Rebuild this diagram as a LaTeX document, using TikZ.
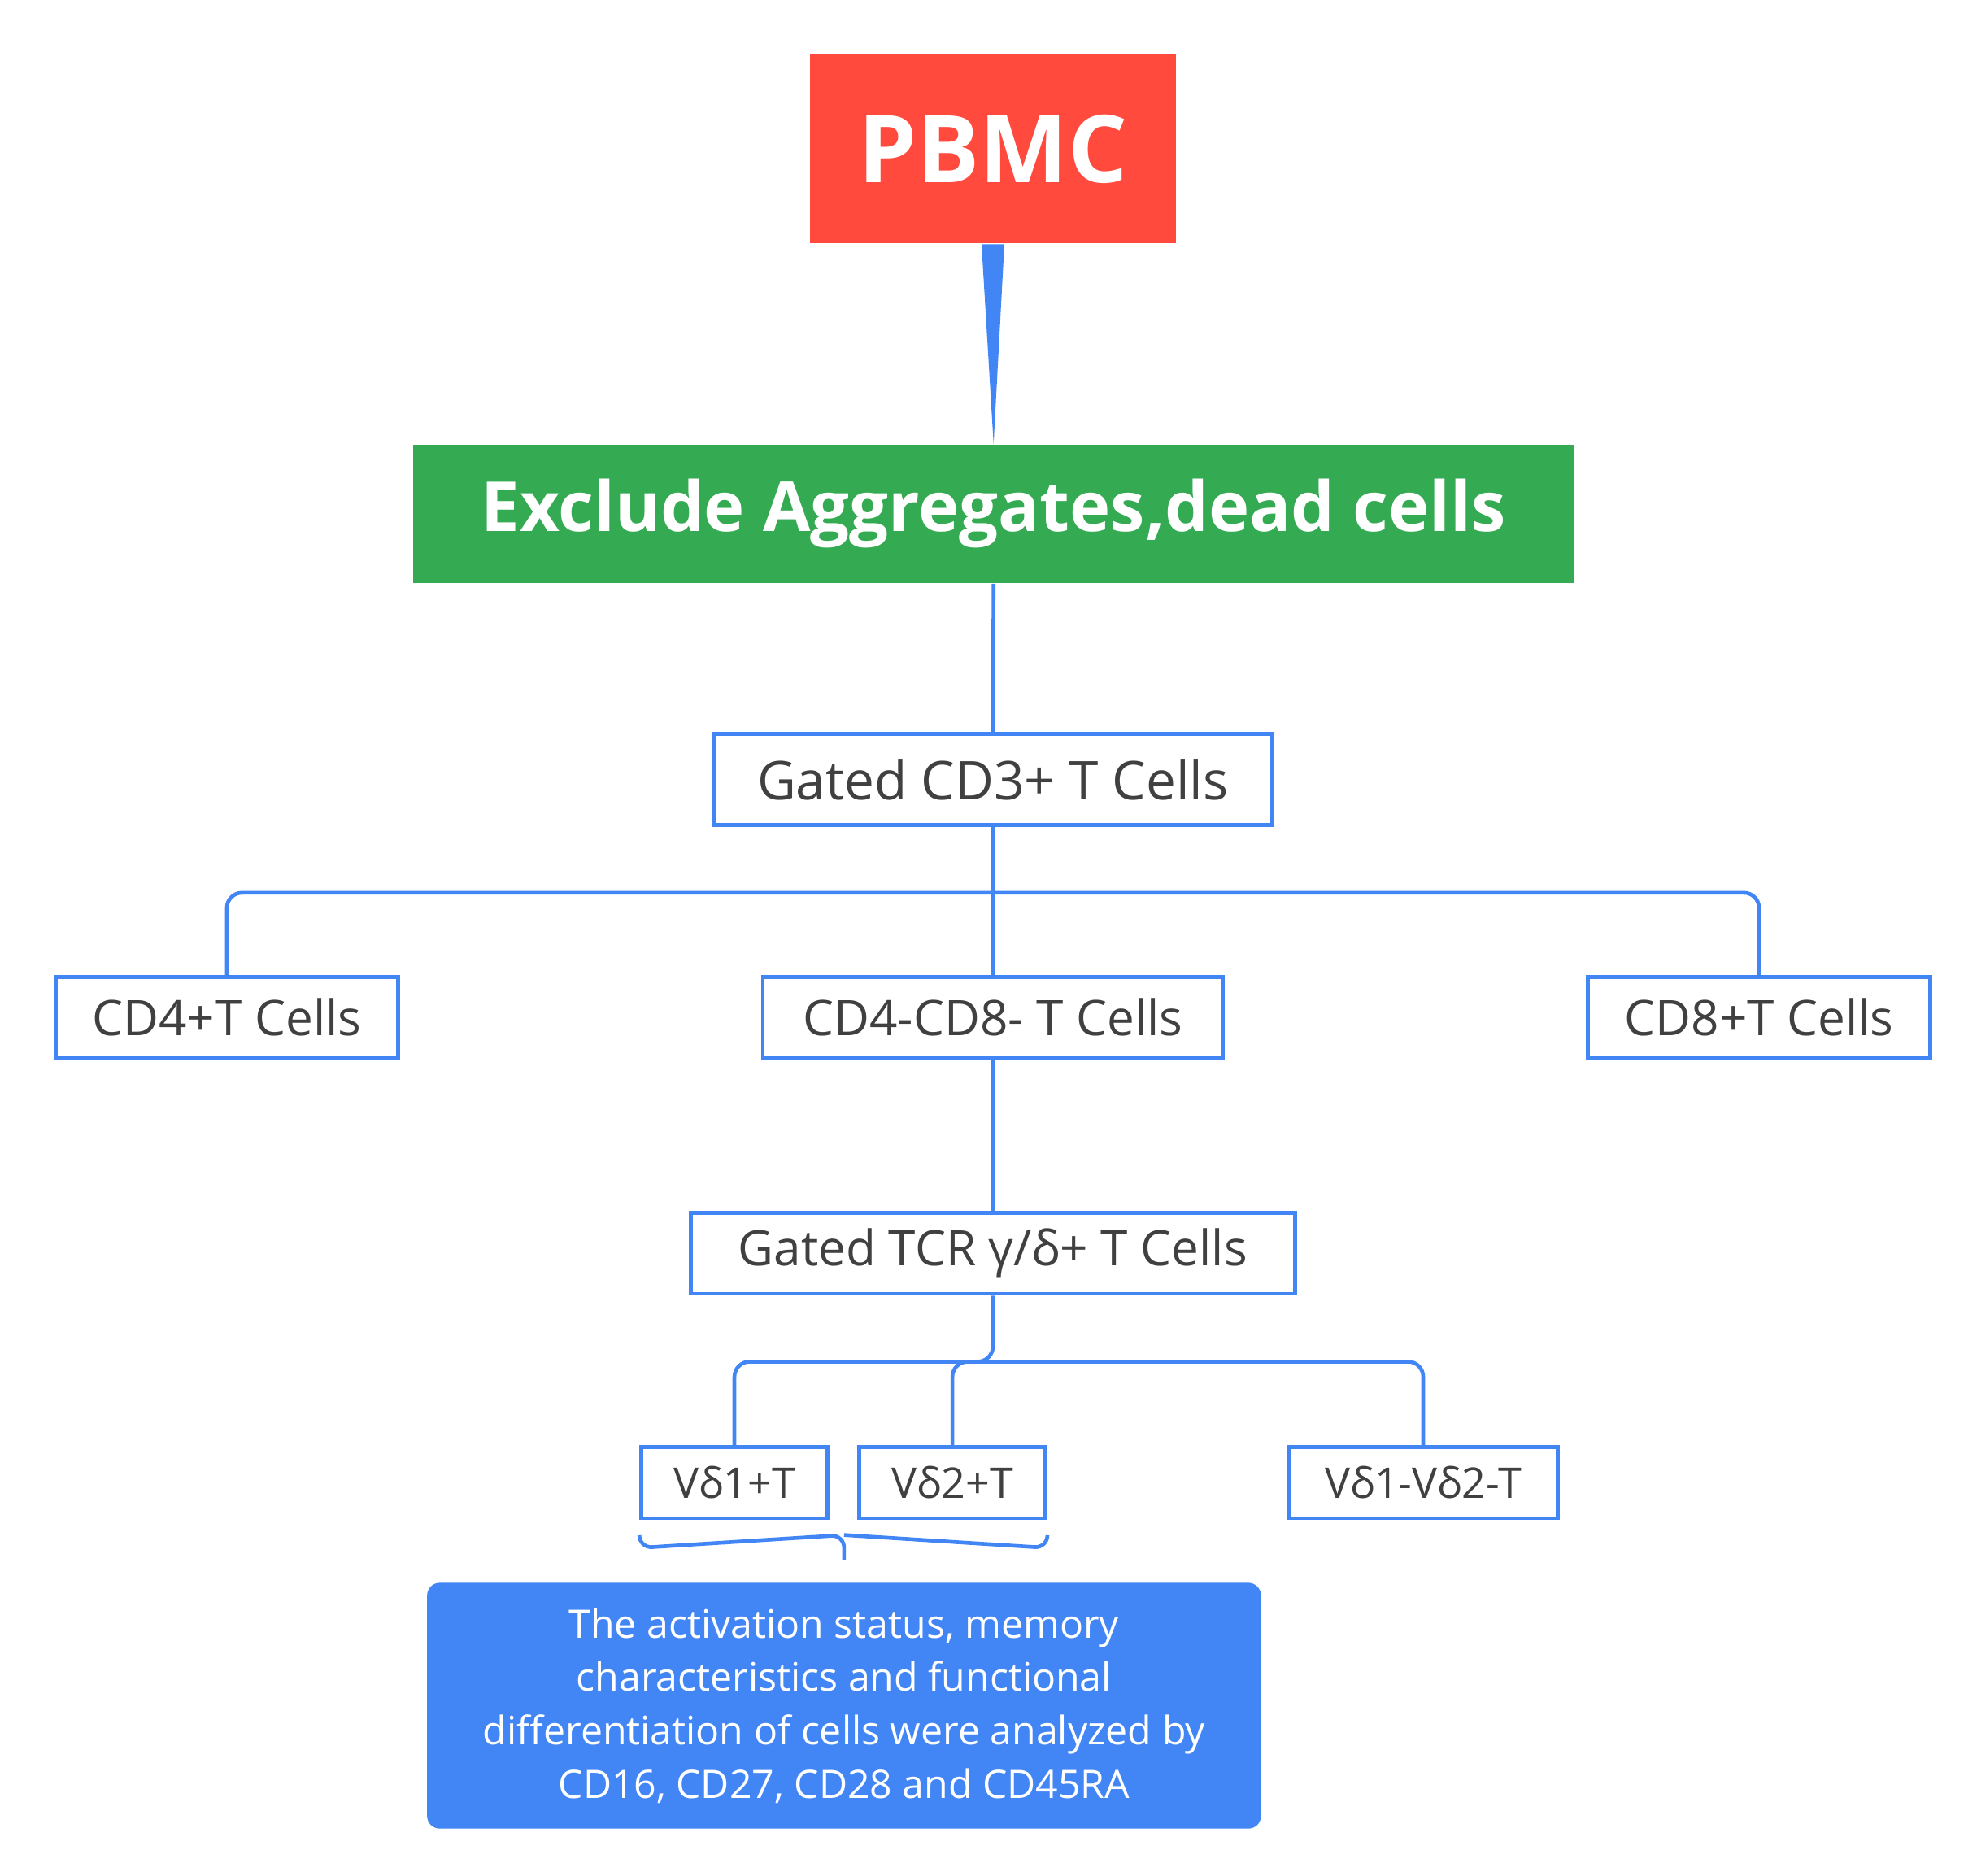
\documentclass[tikz,border=0pt]{standalone}
\usepackage{fontspec}
\setmainfont{Open Sans}
\usetikzlibrary{positioning,calc}
\definecolor{lineblue}{HTML}{4285F4}
\definecolor{pbmcred}{HTML}{FF4A3D}
\definecolor{gatedgreen}{HTML}{34AA52}
\definecolor{txtgray}{HTML}{404040}
\tikzset{
  gate/.style={draw=lineblue, line width=0.85pt, fill=white, text=txtgray, inner sep=0pt},
  link/.style={draw=lineblue, line width=0.85pt, rounded corners=0.12cm},
}
\begin{document}
\begin{tikzpicture}
\useasboundingbox (0,0) rectangle (15.6,14.8);

% top boxes
\node[fill=pbmcred, text=white, minimum width=2.89cm, minimum height=1.49cm, font=\bfseries\fontsize{21}{24}\selectfont] (pbmc) at (7.835,13.625) {PBMC};
\node[fill=gatedgreen, text=white, minimum width=9.16cm, minimum height=1.09cm, font=\bfseries\fontsize{15.5}{18}\selectfont] (excl) at (7.84,10.745) {Exclude Aggregates,dead cells};
\node[gate, minimum width=4.41cm, minimum height=0.72cm, font=\fontsize{12}{14}\selectfont] (cd3) at (7.835,8.65) {Gated CD3+ T Cells};

% subsets
\node[gate, minimum width=2.70cm, minimum height=0.64cm, font=\fontsize{11}{13}\selectfont] (cd4) at (1.79,6.77) {CD4+T Cells};
\node[gate, minimum width=3.63cm, minimum height=0.64cm, font=\fontsize{11}{13}\selectfont] (dn) at (7.835,6.77) {CD4-CD8- T Cells};
\node[gate, minimum width=2.70cm, minimum height=0.64cm, font=\fontsize{11}{13}\selectfont] (cd8) at (13.88,6.77) {CD8+T Cells};
\node[gate, minimum width=4.77cm, minimum height=0.64cm, font=\fontsize{11}{13}\selectfont] (tcr) at (7.835,4.91) {Gated TCR γ/δ+ T Cells};

% v delta
\node[gate, minimum width=1.47cm, minimum height=0.56cm, font=\fontsize{9.5}{11}\selectfont] (vd1) at (5.795,3.10) {Vδ1+T};
\node[gate, minimum width=1.47cm, minimum height=0.56cm, font=\fontsize{9.5}{11}\selectfont] (vd2) at (7.515,3.10) {Vδ2+T};
\node[gate, minimum width=2.12cm, minimum height=0.56cm, font=\fontsize{9.5}{11}\selectfont] (vdn) at (11.23,3.10) {Vδ1-Vδ2-T};

\node[fill=lineblue, rounded corners=0.1cm, text=white, minimum width=6.58cm, minimum height=1.94cm, align=center, font=\fontsize{8.8}{12}\selectfont] (note) at (6.66,1.34)
{The activation status, memory\\characteristics and functional\\differentiation of cells were analyzed by\\CD16, CD27, CD28 and CD45RA};

% connectors
\fill[lineblue] ($(pbmc.south)+(-0.09,0)$) -- ($(pbmc.south)+(0.09,0)$) -- (excl.north) -- cycle;
\draw[link] (excl.south) -- (cd3.north);
\coordinate (bus) at ($(cd3.south)+(0,-0.52)$);
\draw[link] (cd3.south) -- (dn.north);
\draw[link] (bus) -| (cd4.north);
\draw[link] (bus) -| (cd8.north);
\draw[link] (dn.south) -- (tcr.north);
\coordinate (vbus) at ($(tcr.south)+(0,-0.52)$);
\draw[link] (tcr.south) -- (vbus) -| (vd1.north);
\draw[link] (vbus) -| (vd2.north);
\draw[link] (vbus) -| (vdn.north);

% brace
\draw[link, rounded corners=0.1cm] ($(vd1.south west)+(0,-0.12)$) -- ++(0,-0.1) -- ($(note.north)+(0,0.37)$) -- ($(note.north)+(0,0.17)$);
\draw[link, rounded corners=0.1cm] ($(vd2.south east)+(0,-0.12)$) -- ++(0,-0.1) -- ($(note.north)+(0,0.37)$);
\end{tikzpicture}
\end{document}
